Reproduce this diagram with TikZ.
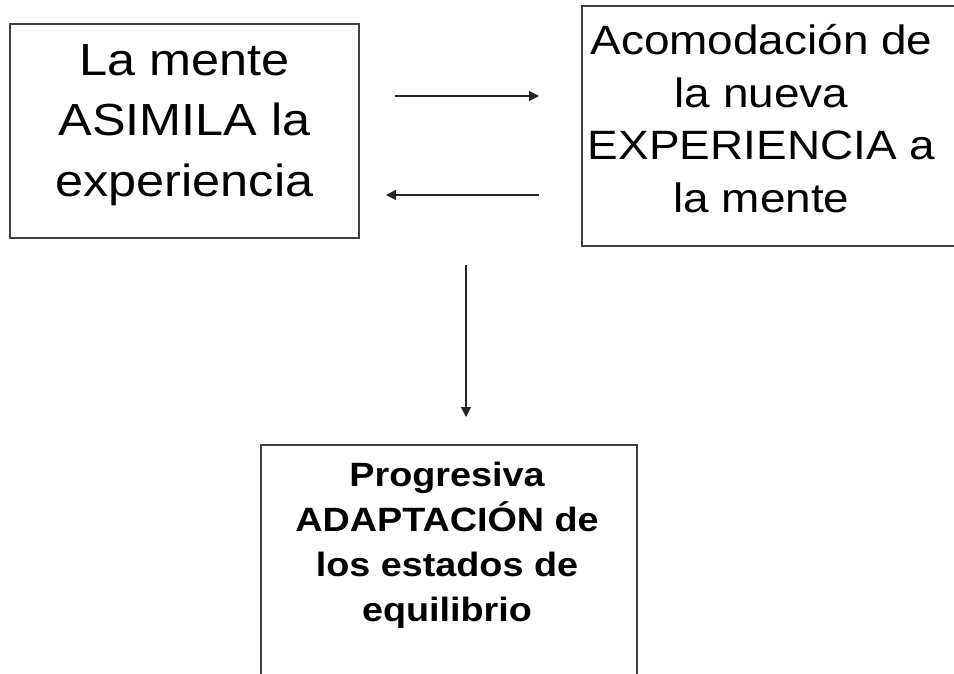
\documentclass[tikz,border=0pt]{standalone}
\usepackage{fontspec}
\setmainfont[FakeStretch=1.12]{Liberation Sans}
\usetikzlibrary{arrows.meta}
\begin{document}
\begin{tikzpicture}[x=1pt,y=1pt,
  box/.style={draw=black!75,line width=1.3pt,inner sep=0pt},
  txt/.style={align=center,inner sep=0pt,anchor=north,text=black},
  conn/.style={draw=black!85,line width=1.2pt,-{Triangle[length=10pt,width=10pt]}}]
\clip (0,0) rectangle (954,-674);
\fill[white] (0,0) rectangle (954,-674);
% boxes
\node[box,minimum width=349pt,minimum height=214pt] (b1) at (184.5,-131) {};
\node[box,minimum width=390pt,minimum height=240pt] (b2) at (777,-126) {};
\node[box,minimum width=376pt,minimum height=300pt] (b3) at (449,-595) {};
% texts
\node[txt,font=\fontsize{45}{60.5}\selectfont] (t1) at (184.5,-44) {La mente\\ASIMILA la\\experiencia};
\node[txt,font=\fontsize{41}{52.7}\selectfont] (t2) at (761.5,-24) {Acomodación de\\la nueva\\EXPERIENCIA a\\la mente};
\node[txt,font=\bfseries\fontsize{33.7}{45}\selectfont] (t3) at (447,-462) {Progresiva\\ADAPTACIÓN de\\los estados de\\equilibrio};
% connector ends
\coordinate (p1) at (395,-96);
\coordinate (q1) at (539,-96);
\coordinate (p2) at (539,-195);
\coordinate (q2) at (386,-195);
\coordinate (p3) at (466,-265);
\coordinate (q3) at (466,-417);
\draw[conn] (p1) -- (q1);
\draw[conn] (p2) -- (q2);
\draw[conn] (p3) -- (q3);
\end{tikzpicture}
\end{document}
